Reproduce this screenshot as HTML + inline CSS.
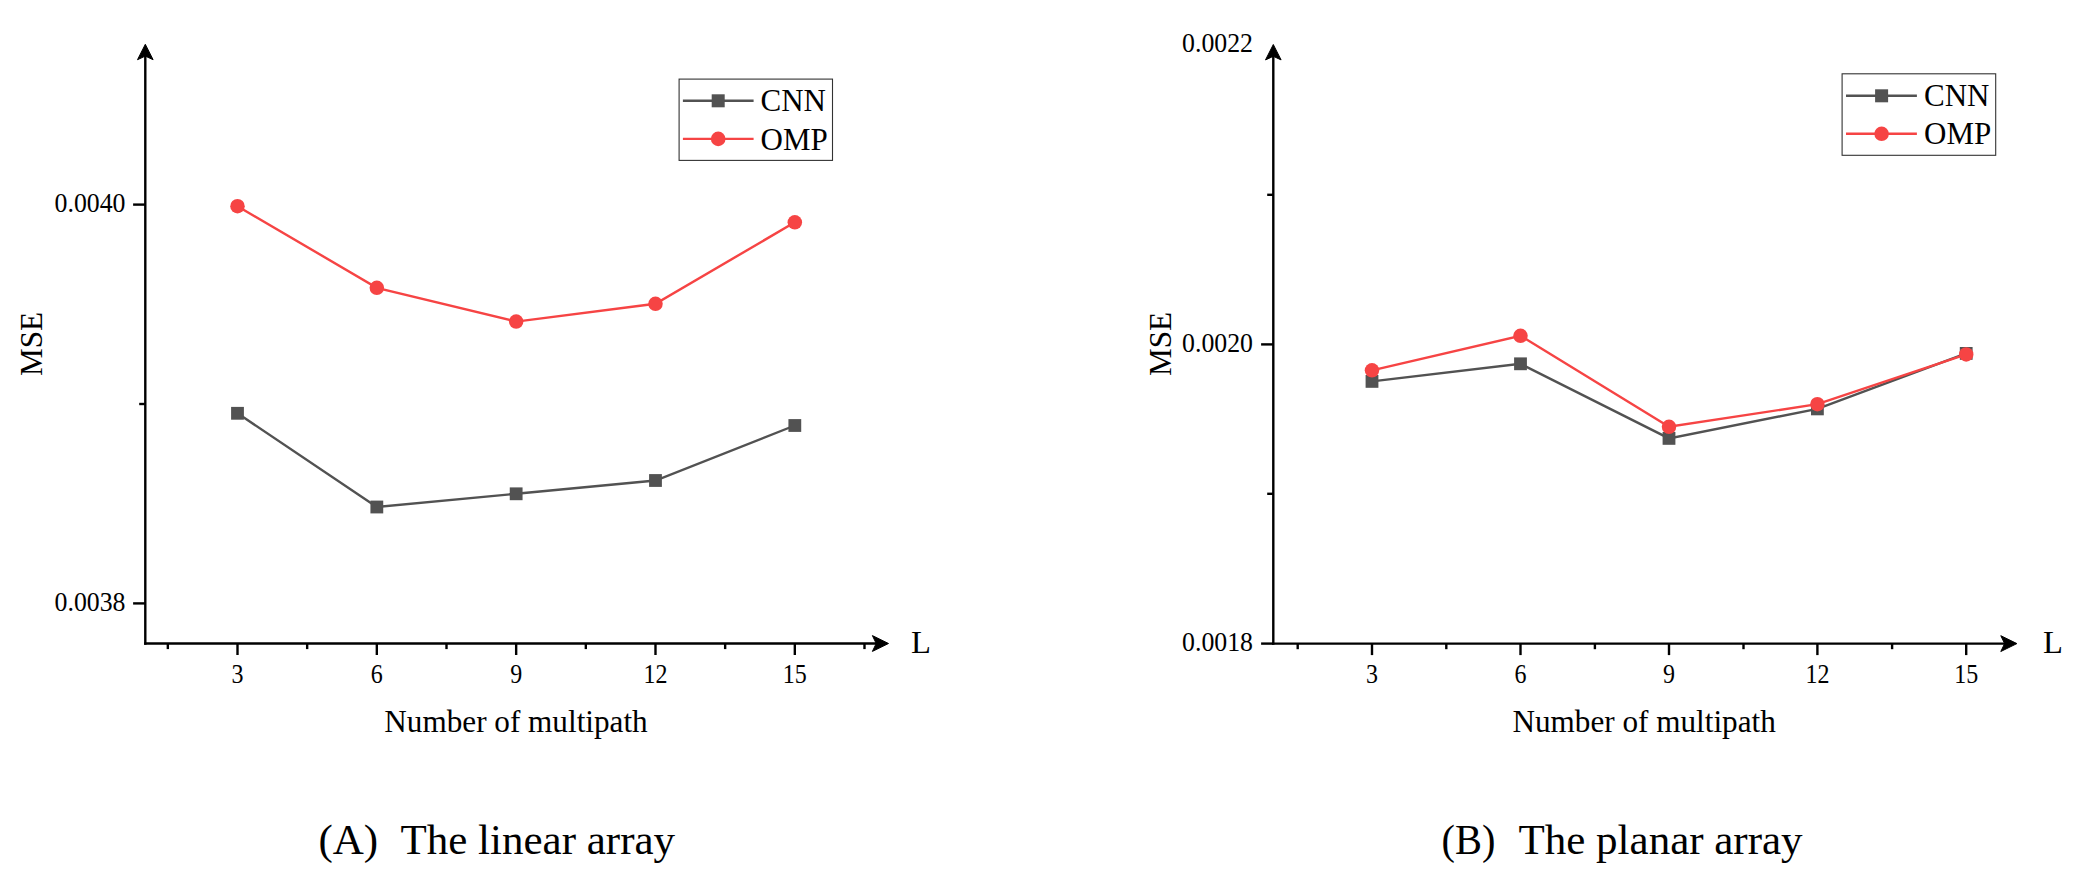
<!DOCTYPE html>
<html><head><meta charset="utf-8"><style>
html,body{margin:0;padding:0;background:#fff;width:2082px;height:892px;overflow:hidden}
svg{display:block}
text{font-family:"Liberation Serif",serif;fill:#000}
.tk{font-size:25.8px}
.ti{font-size:31.2px}
.lg{font-size:31px}
.cap{font-size:43px}
</style></head><body>
<svg width="2082" height="892" viewBox="0 0 2082 892">
<rect width="2082" height="892" fill="#fff"/>
<line x1="145.3" y1="53.8" x2="145.3" y2="644.7" stroke="#000" stroke-width="2.4"/>
<line x1="144.10000000000002" y1="643.5" x2="879" y2="643.5" stroke="#000" stroke-width="2.4"/>
<path d="M145.3,44.3 L153.10000000000002,59.699999999999996 L145.3,56.099999999999994 L137.5,59.699999999999996 Z" fill="#000" stroke="#000" stroke-width="1" stroke-linejoin="round"/>
<path d="M888.5,643.5 L872.4,635.6 L876.1999999999999,643.5 L872.4,651.4 Z" fill="#000" stroke="#000" stroke-width="1" stroke-linejoin="round"/>
<line x1="133.10000000000002" y1="204.6" x2="145.3" y2="204.6" stroke="#000" stroke-width="2.4"/>
<line x1="133.10000000000002" y1="603.4" x2="145.3" y2="603.4" stroke="#000" stroke-width="2.4"/>
<line x1="139.20000000000002" y1="404.0" x2="145.3" y2="404.0" stroke="#000" stroke-width="2.4"/>
<line x1="237.5" y1="643.5" x2="237.5" y2="655.0" stroke="#000" stroke-width="2.4"/>
<line x1="376.83000000000004" y1="643.5" x2="376.83000000000004" y2="655.0" stroke="#000" stroke-width="2.4"/>
<line x1="516.1600000000001" y1="643.5" x2="516.1600000000001" y2="655.0" stroke="#000" stroke-width="2.4"/>
<line x1="655.49" y1="643.5" x2="655.49" y2="655.0" stroke="#000" stroke-width="2.4"/>
<line x1="794.82" y1="643.5" x2="794.82" y2="655.0" stroke="#000" stroke-width="2.4"/>
<line x1="167.83499999999998" y1="643.5" x2="167.83499999999998" y2="649.1" stroke="#000" stroke-width="2.4"/>
<line x1="307.16499999999996" y1="643.5" x2="307.16499999999996" y2="649.1" stroke="#000" stroke-width="2.4"/>
<line x1="446.495" y1="643.5" x2="446.495" y2="649.1" stroke="#000" stroke-width="2.4"/>
<line x1="585.825" y1="643.5" x2="585.825" y2="649.1" stroke="#000" stroke-width="2.4"/>
<line x1="725.155" y1="643.5" x2="725.155" y2="649.1" stroke="#000" stroke-width="2.4"/>
<line x1="864.4850000000001" y1="643.5" x2="864.4850000000001" y2="649.1" stroke="#000" stroke-width="2.4"/>
<text class="tk" x="0" y="0" text-anchor="end" transform="translate(125.5,211.7) scale(1,1.05)">0.0040</text>
<text class="tk" x="0" y="0" text-anchor="end" transform="translate(125.5,611.0) scale(1,1.05)">0.0038</text>
<text class="tk" x="0" y="0" text-anchor="middle" transform="translate(237.5,682.5) scale(0.93,1.05)">3</text>
<text class="tk" x="0" y="0" text-anchor="middle" transform="translate(376.83000000000004,682.5) scale(0.93,1.05)">6</text>
<text class="tk" x="0" y="0" text-anchor="middle" transform="translate(516.1600000000001,682.5) scale(0.93,1.05)">9</text>
<text class="tk" x="0" y="0" text-anchor="middle" transform="translate(655.49,682.5) scale(0.93,1.05)">12</text>
<text class="tk" x="0" y="0" text-anchor="middle" transform="translate(794.82,682.5) scale(0.93,1.05)">15</text>
<text class="ti" x="0" y="0" text-anchor="middle" transform="translate(42.4,344) rotate(-90)">MSE</text>
<text class="ti" x="516.0" y="731.8" text-anchor="middle">Number of multipath</text>
<text class="ti" x="911.0" y="652.6" style="font-size:32.6px">L</text>
<polyline points="237.5,413.3 376.83000000000004,507.0 516.1600000000001,493.8 655.49,480.5 794.82,425.5" fill="none" stroke="#525252" stroke-width="2.4" stroke-linejoin="miter"/>
<rect x="231.1" y="406.90000000000003" width="12.8" height="12.8" fill="#525252"/>
<rect x="370.43000000000006" y="500.6" width="12.8" height="12.8" fill="#525252"/>
<rect x="509.7600000000001" y="487.40000000000003" width="12.8" height="12.8" fill="#525252"/>
<rect x="649.09" y="474.1" width="12.8" height="12.8" fill="#525252"/>
<rect x="788.4200000000001" y="419.1" width="12.8" height="12.8" fill="#525252"/>
<polyline points="237.5,206.2 376.83000000000004,287.8 516.1600000000001,321.6 655.49,303.8 794.82,222.3" fill="none" stroke="#F64444" stroke-width="2.4"/>
<circle cx="237.5" cy="206.2" r="7.25" fill="#F64444"/>
<circle cx="376.83000000000004" cy="287.8" r="7.25" fill="#F64444"/>
<circle cx="516.1600000000001" cy="321.6" r="7.25" fill="#F64444"/>
<circle cx="655.49" cy="303.8" r="7.25" fill="#F64444"/>
<circle cx="794.82" cy="222.3" r="7.25" fill="#F64444"/>
<rect x="679.1" y="79.1" width="153.39999999999998" height="81.30000000000001" fill="none" stroke="#333" stroke-width="1.1"/>
<line x1="682.9" y1="100.8" x2="753.6" y2="100.8" stroke="#525252" stroke-width="2.4"/>
<rect x="711.7" y="94.3" width="13" height="13" fill="#525252"/>
<line x1="682.9" y1="138.9" x2="753.6" y2="138.9" stroke="#F64444" stroke-width="2.4"/>
<circle cx="718.2" cy="138.9" r="7.3" fill="#F64444"/>
<text class="lg" x="760.5" y="111.39999999999999">CNN</text>
<text class="lg" x="760.5" y="149.5">OMP</text>
<text class="cap" x="0" y="0" transform="translate(318.5,854.4) scale(1.0,1)">(A)</text>
<text class="cap" x="400.5" y="854.4">The linear array</text>
<line x1="1273.3" y1="54.0" x2="1273.3" y2="644.8000000000001" stroke="#000" stroke-width="2.4"/>
<line x1="1272.1" y1="643.6" x2="2007.4" y2="643.6" stroke="#000" stroke-width="2.4"/>
<path d="M1273.3,44.5 L1281.1,59.9 L1273.3,56.3 L1265.5,59.9 Z" fill="#000" stroke="#000" stroke-width="1" stroke-linejoin="round"/>
<path d="M2016.9,643.6 L2000.8000000000002,635.7 L2004.6000000000001,643.6 L2000.8000000000002,651.5 Z" fill="#000" stroke="#000" stroke-width="1" stroke-linejoin="round"/>
<line x1="1261.1" y1="344.4" x2="1273.3" y2="344.4" stroke="#000" stroke-width="2.4"/>
<line x1="1261.1" y1="643.6" x2="1273.3" y2="643.6" stroke="#000" stroke-width="2.4"/>
<line x1="1267.2" y1="194.8" x2="1273.3" y2="194.8" stroke="#000" stroke-width="2.4"/>
<line x1="1267.2" y1="493.8" x2="1273.3" y2="493.8" stroke="#000" stroke-width="2.4"/>
<line x1="1372.0" y1="643.6" x2="1372.0" y2="655.1" stroke="#000" stroke-width="2.4"/>
<line x1="1520.5" y1="643.6" x2="1520.5" y2="655.1" stroke="#000" stroke-width="2.4"/>
<line x1="1669.0" y1="643.6" x2="1669.0" y2="655.1" stroke="#000" stroke-width="2.4"/>
<line x1="1817.4" y1="643.6" x2="1817.4" y2="655.1" stroke="#000" stroke-width="2.4"/>
<line x1="1966.2" y1="643.6" x2="1966.2" y2="655.1" stroke="#000" stroke-width="2.4"/>
<line x1="1297.7" y1="643.6" x2="1297.7" y2="649.2" stroke="#000" stroke-width="2.4"/>
<line x1="1446.3" y1="643.6" x2="1446.3" y2="649.2" stroke="#000" stroke-width="2.4"/>
<line x1="1594.9" y1="643.6" x2="1594.9" y2="649.2" stroke="#000" stroke-width="2.4"/>
<line x1="1743.5" y1="643.6" x2="1743.5" y2="649.2" stroke="#000" stroke-width="2.4"/>
<line x1="1892.1" y1="643.6" x2="1892.1" y2="649.2" stroke="#000" stroke-width="2.4"/>
<text class="tk" x="0" y="0" text-anchor="end" transform="translate(1253,52.2) scale(1,1.05)">0.0022</text>
<text class="tk" x="0" y="0" text-anchor="end" transform="translate(1253,351.5) scale(1,1.05)">0.0020</text>
<text class="tk" x="0" y="0" text-anchor="end" transform="translate(1253,650.5) scale(1,1.05)">0.0018</text>
<text class="tk" x="0" y="0" text-anchor="middle" transform="translate(1372.0,682.5) scale(0.93,1.05)">3</text>
<text class="tk" x="0" y="0" text-anchor="middle" transform="translate(1520.5,682.5) scale(0.93,1.05)">6</text>
<text class="tk" x="0" y="0" text-anchor="middle" transform="translate(1669.0,682.5) scale(0.93,1.05)">9</text>
<text class="tk" x="0" y="0" text-anchor="middle" transform="translate(1817.4,682.5) scale(0.93,1.05)">12</text>
<text class="tk" x="0" y="0" text-anchor="middle" transform="translate(1966.2,682.5) scale(0.93,1.05)">15</text>
<text class="ti" x="0" y="0" text-anchor="middle" transform="translate(1171.3,344) rotate(-90)">MSE</text>
<text class="ti" x="1644.1" y="731.8" text-anchor="middle">Number of multipath</text>
<text class="ti" x="2043.0" y="652.6" style="font-size:32.6px">L</text>
<polyline points="1372.0,381.4 1520.5,363.8 1669.0,438.4 1817.4,408.9 1966.2,353.4" fill="none" stroke="#525252" stroke-width="2.4" stroke-linejoin="miter"/>
<rect x="1365.6" y="375.0" width="12.8" height="12.8" fill="#525252"/>
<rect x="1514.1" y="357.40000000000003" width="12.8" height="12.8" fill="#525252"/>
<rect x="1662.6" y="432.0" width="12.8" height="12.8" fill="#525252"/>
<rect x="1811.0" y="402.5" width="12.8" height="12.8" fill="#525252"/>
<rect x="1959.8" y="347.0" width="12.8" height="12.8" fill="#525252"/>
<polyline points="1372.0,370.3 1520.5,335.8 1669.0,426.8 1817.4,404.2 1966.2,354.4" fill="none" stroke="#F64444" stroke-width="2.4"/>
<circle cx="1372.0" cy="370.3" r="7.25" fill="#F64444"/>
<circle cx="1520.5" cy="335.8" r="7.25" fill="#F64444"/>
<circle cx="1669.0" cy="426.8" r="7.25" fill="#F64444"/>
<circle cx="1817.4" cy="404.2" r="7.25" fill="#F64444"/>
<circle cx="1966.2" cy="354.4" r="7.25" fill="#F64444"/>
<rect x="1842.1" y="73.8" width="153.60000000000014" height="81.50000000000001" fill="none" stroke="#333" stroke-width="1.1"/>
<line x1="1846" y1="95.8" x2="1916.9" y2="95.8" stroke="#525252" stroke-width="2.4"/>
<rect x="1875.1" y="89.3" width="13" height="13" fill="#525252"/>
<line x1="1846" y1="133.8" x2="1916.9" y2="133.8" stroke="#F64444" stroke-width="2.4"/>
<circle cx="1881.6" cy="133.8" r="7.3" fill="#F64444"/>
<text class="lg" x="1924" y="106.39999999999999">CNN</text>
<text class="lg" x="1924" y="144.4">OMP</text>
<text class="cap" x="0" y="0" transform="translate(1441.5,854.4) scale(0.94,1)">(B)</text>
<text class="cap" x="1518.5" y="854.4">The planar array</text>
</svg>
</body></html>
